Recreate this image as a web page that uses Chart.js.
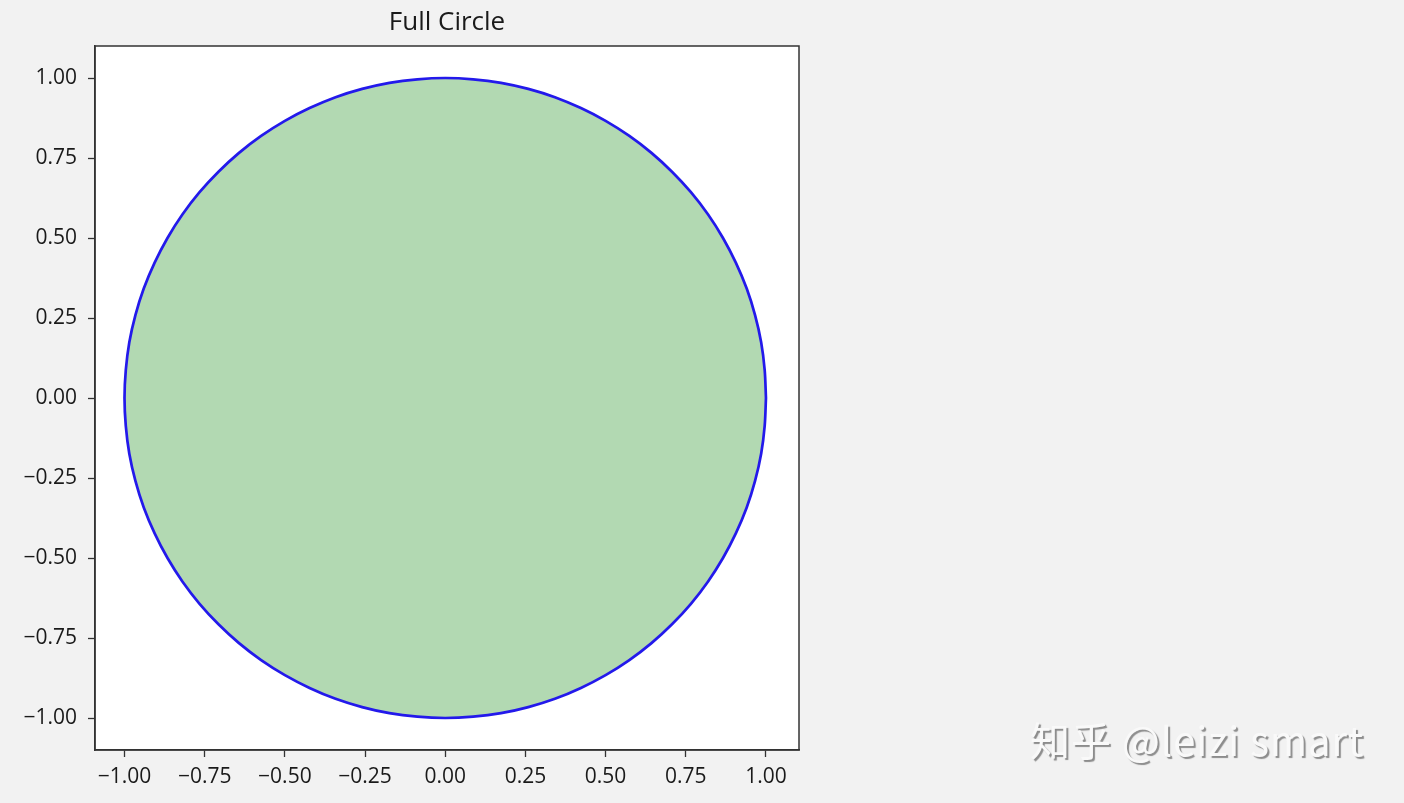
<!DOCTYPE html>
<html>
<head>
<meta charset="utf-8">
<script src="https://cdn.jsdelivr.net/npm/chart.js@4"></script>
<style>
  html, body { margin: 0; padding: 0; background: #f2f2f2; }
  #wrap { position: relative; width: 1404px; height: 803px; }
  #mark {
    position: absolute; left: 1030px; top: 710px;
    font: 40px "Noto Sans CJK SC", "Noto Sans", sans-serif; letter-spacing: 1px;
    color: #f9f9f9; text-shadow: 2px 2px 1px #8c8c8c; white-space: nowrap;
  }
</style>
</head>
<body>
<div id="wrap">
  <canvas id="chart" width="1404" height="803"></canvas>
  <div id="mark">知乎 @leizi smart</div>
</div>
<script>
// points on the unit circle, every 5 degrees, starting and ending at (1, 0)
const circleX = [
  1, 0.996, 0.985, 0.966, 0.940, 0.906, 0.866, 0.819, 0.766, 0.707, 0.643, 0.574, 0.500, 0.423, 0.342, 0.259, 0.174, 0.087, 0,
  -0.087, -0.174, -0.259, -0.342, -0.423, -0.500, -0.574, -0.643, -0.707, -0.766, -0.819, -0.866, -0.906, -0.940, -0.966, -0.985, -0.996, -1,
  -0.996, -0.985, -0.966, -0.940, -0.906, -0.866, -0.819, -0.766, -0.707, -0.643, -0.574, -0.500, -0.423, -0.342, -0.259, -0.174, -0.087, 0,
  0.087, 0.174, 0.259, 0.342, 0.423, 0.500, 0.574, 0.643, 0.707, 0.766, 0.819, 0.866, 0.906, 0.940, 0.966, 0.985, 0.996, 1];
const circleY = [
  0, 0.087, 0.174, 0.259, 0.342, 0.423, 0.500, 0.574, 0.643, 0.707, 0.766, 0.819, 0.866, 0.906, 0.940, 0.966, 0.985, 0.996, 1,
  0.996, 0.985, 0.966, 0.940, 0.906, 0.866, 0.819, 0.766, 0.707, 0.643, 0.574, 0.500, 0.423, 0.342, 0.259, 0.174, 0.087, 0,
  -0.087, -0.174, -0.259, -0.342, -0.423, -0.500, -0.574, -0.643, -0.707, -0.766, -0.819, -0.866, -0.906, -0.940, -0.966, -0.985, -0.996, -1,
  -0.996, -0.985, -0.966, -0.940, -0.906, -0.866, -0.819, -0.766, -0.707, -0.643, -0.574, -0.500, -0.423, -0.342, -0.259, -0.174, -0.087, 0];
const xTicks = [-1, -0.75, -0.5, -0.25, 0, 0.25, 0.5, 0.75, 1];
const yTicks = [-1, -0.75, -0.5, -0.25, 0, 0.25, 0.5, 0.75, 1];
const titleText = 'Full Circle';

const FONT = '"Open Sans", "Noto Sans", sans-serif';
const fmt = v => (v < 0 ? '\u2212' : '') + Math.abs(v).toFixed(2);

// white plot area, frame on all four sides, title over the plot area
const framePlugin = {
  id: 'frame',
  beforeDraw(chart) {
    const { ctx, chartArea: a } = chart;
    ctx.save();
    ctx.fillStyle = '#ffffff';
    ctx.fillRect(a.left, a.top, a.right - a.left, a.bottom - a.top);
    ctx.restore();
  },
  afterDraw(chart) {
    const { ctx, chartArea: a } = chart;
    ctx.save();
    ctx.strokeStyle = '#333333';
    ctx.lineWidth = 1.5;
    ctx.strokeRect(a.left, a.top, a.right - a.left, a.bottom - a.top);
    ctx.fillStyle = '#1a1a1a';
    ctx.font = '26px ' + FONT;
    ctx.textAlign = 'center';
    ctx.textBaseline = 'middle';
    ctx.fillText(titleText, (a.left + a.right) / 2, 23);
    ctx.restore();
  }
};

const axisCommon = (ticks, min, max) => ({
  type: 'linear',
  min: min,
  max: max,
  afterBuildTicks: s => { s.ticks = ticks.map(v => ({ value: v })); },
  grid: { display: true, drawOnChartArea: false, drawTicks: true, tickLength: 7, tickColor: '#333333', tickWidth: 1.3 },
  border: { display: true, color: '#333333', width: 1.5 },
  ticks: { color: '#1a1a1a', font: { family: FONT, size: 21 }, padding: 7, callback: v => fmt(v), maxRotation: 0, autoSkip: false }
});

const xAxis = axisCommon(xTicks, -1.092, 1.103);
xAxis.afterFit = s => { s.height = 53; };
const yAxis = axisCommon(yTicks, -1.1, 1.1);
yAxis.ticks.padding = 11;
yAxis.afterFit = s => { s.width = 95; };

new Chart(document.getElementById('chart'), {
  type: 'line',
  data: {
    datasets: [{
      data: circleX.map((x, i) => ({ x: x, y: circleY[i] })),
      borderColor: 'rgb(35, 25, 235)',
      borderWidth: 2.7,
      backgroundColor: 'rgba(0, 128, 0, 0.3)',
      fill: 'shape',
      tension: 0.33,
      pointRadius: 0
    }]
  },
  options: {
    responsive: false,
    animation: false,
    layout: { padding: { left: 0, right: 605, top: 46, bottom: 0 } },
    plugins: { legend: { display: false }, tooltip: { enabled: false } },
    scales: { x: xAxis, y: yAxis }
  },
  plugins: [framePlugin]
});
</script>
</body>
</html>
